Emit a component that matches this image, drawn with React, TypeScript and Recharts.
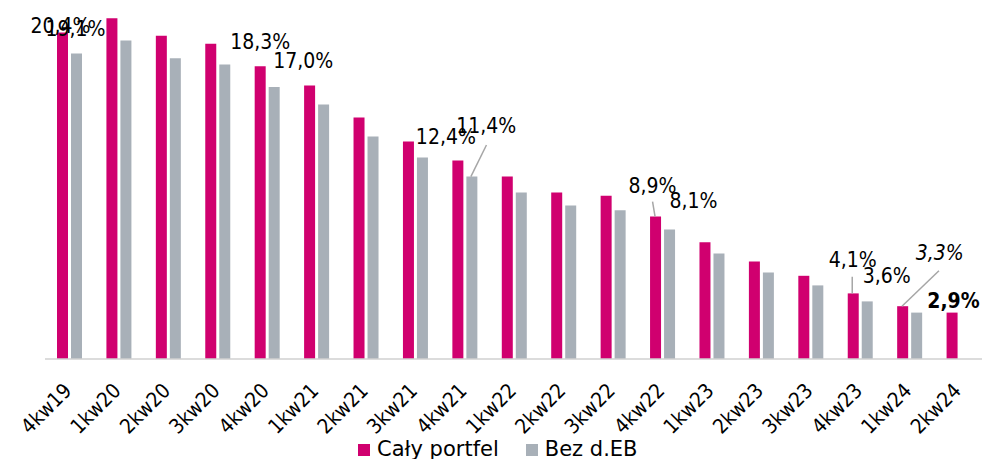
import React from 'react';
import { BarChart, Bar, XAxis, YAxis, Legend, LabelList } from 'recharts';

const categories = ['4kw19', '1kw20', '2kw20', '3kw20', '4kw20', '1kw21', '2kw21', '3kw21', '4kw21', '1kw22', '2kw22', '3kw22', '4kw22', '1kw23', '2kw23', '3kw23', '4kw23', '1kw24', '2kw24'];
const calyPortfel = [20.4, 21.3, 20.2, 19.7, 18.3, 17.1, 15.1, 13.6, 12.4, 11.4, 10.4, 10.2, 8.9, 7.3, 6.1, 5.2, 4.1, 3.3, 2.9];
const bezDEB: (number | null)[] = [19.1, 19.9, 18.8, 18.4, 17.0, 15.9, 13.9, 12.6, 11.4, 10.4, 9.6, 9.3, 8.1, 6.6, 5.4, 4.6, 3.6, 2.9, null];
const seriesNames = ['Cały portfel', 'Bez d.EB'];

const MAGENTA = '#D0006F';
const GREY = '#A8B0B8';
const LABEL_FONT = "'DejaVu Sans Condensed', 'DejaVu Sans', sans-serif";

const data = categories.map((c, i) => ({ cat: c, caly: calyPortfel[i], bez: bezDEB[i] }));

type Place = { dx: number; dy: number; leader?: [number, number, number, number]; bold?: boolean; italic?: boolean };

const magentaPlaces: Record<number, Place> = {
  0: { dx: -2, dy: 0 },
  4: { dx: 0, dy: -17 },
  8: { dx: -12, dy: -17 },
  12: { dx: -3, dy: -24, leader: [-3, -15, -0.5, 0] },
  16: { dx: -0.6, dy: -26, leader: [-1, -16.7, -1, 0] },
  17: { dx: 37, dy: -46, italic: true, leader: [36.3, -35.5, -0.7, 0] },
  18: { dx: 1.4, dy: -4.3, bold: true },
};
const greyPlaces: Record<number, Place> = {
  0: { dx: -1, dy: -17.4 },
  4: { dx: 29, dy: -19 },
  8: { dx: 14.4, dy: -43.3, leader: [14.6, -31.6, -1, 0] },
  12: { dx: 24, dy: -21 },
  16: { dx: 19.4, dy: -18 },
};

const fmt = (v: number) => v.toFixed(1).replace('.', ',') + '%';

const makeLabel = (places: Record<number, Place>) => (props: any) => {
  const { index, value } = props;
  const p = places[index];
  if (!p || value == null) return null;
  const vb = props.viewBox || props;
  const x = Number(vb.x ?? props.x);
  const y = Number(vb.y ?? props.y);
  const w = Number(vb.width ?? props.width);
  const cx = x + w / 2;
  return (
    <g>
      {p.leader && (
        <line x1={cx + p.leader[0]} y1={y + p.leader[1]} x2={cx + p.leader[2]} y2={y + p.leader[3]} stroke="#A6A6A6" strokeWidth={1.5} />
      )}
      <text
        x={cx + p.dx}
        y={y + p.dy}
        textAnchor="middle"
        fontFamily={LABEL_FONT}
        fontSize={21}
        fontWeight={p.bold ? 'bold' : 'normal'}
        fontStyle={p.italic ? 'italic' : 'normal'}
        fill="#000"
      >
        {fmt(Number(value))}
      </text>
    </g>
  );
};

const Tick = (props: any) => {
  const { x, y, payload } = props;
  const tx = x + 3;
  const ty = y + 33;
  return (
    <text x={tx} y={ty} transform={`rotate(-45, ${tx}, ${ty})`} textAnchor="end" fontFamily={LABEL_FONT} fontSize={20.5} fill="#000">
      {payload.value}
    </text>
  );
};

const LegendContent = (props: any) => {
  const payload = [...(props.payload || [])].sort(
    (a: any, b: any) => seriesNames.indexOf(a.value) - seriesNames.indexOf(b.value)
  );
  return (
    <div style={{ display: 'flex', alignItems: 'center', fontFamily: "'DejaVu Sans', sans-serif", fontSize: 21, lineHeight: '21px', color: '#000', whiteSpace: 'nowrap' }}>
      {payload.map((e: any, i: number) => (
        <div key={i} style={{ display: 'flex', alignItems: 'center', marginRight: i === 0 ? 27 : 0 }}>
          <span style={{ display: 'inline-block', width: 12, height: 12, background: e.color, marginRight: 7 }} />
          <span>{e.value}</span>
        </div>
      ))}
    </div>
  );
};

export default function App() {
  return (
    <div style={{ position: 'fixed', left: 0, top: 0, width: 982, height: 459, overflow: 'hidden', background: '#fff' }}>
      <BarChart width={984} height={459} data={data} margin={{ top: 7, right: 0, left: 45, bottom: 40 }} barGap={3} barSize={11}>
        <XAxis
          dataKey="cat"
          interval={0}
          height={60}
          tickLine={false}
          tickSize={0}
          tickMargin={0}
          axisLine={{ stroke: '#D0D0D0', strokeWidth: 1.5 }}
          tick={<Tick />}
        />
        <YAxis hide domain={[0, 22]} />
        <Legend
          layout="horizontal"
          verticalAlign="middle"
          align="center"
          wrapperStyle={{ left: 358, top: 439, width: 400, height: 21 }}
          content={<LegendContent />}
        />
        <Bar dataKey="caly" name={seriesNames[0]} fill={MAGENTA} isAnimationActive={false}>
          <LabelList dataKey="caly" content={makeLabel(magentaPlaces)} />
        </Bar>
        <Bar dataKey="bez" name={seriesNames[1]} fill={GREY} isAnimationActive={false}>
          <LabelList dataKey="bez" content={makeLabel(greyPlaces)} />
        </Bar>
      </BarChart>
    </div>
  );
}
